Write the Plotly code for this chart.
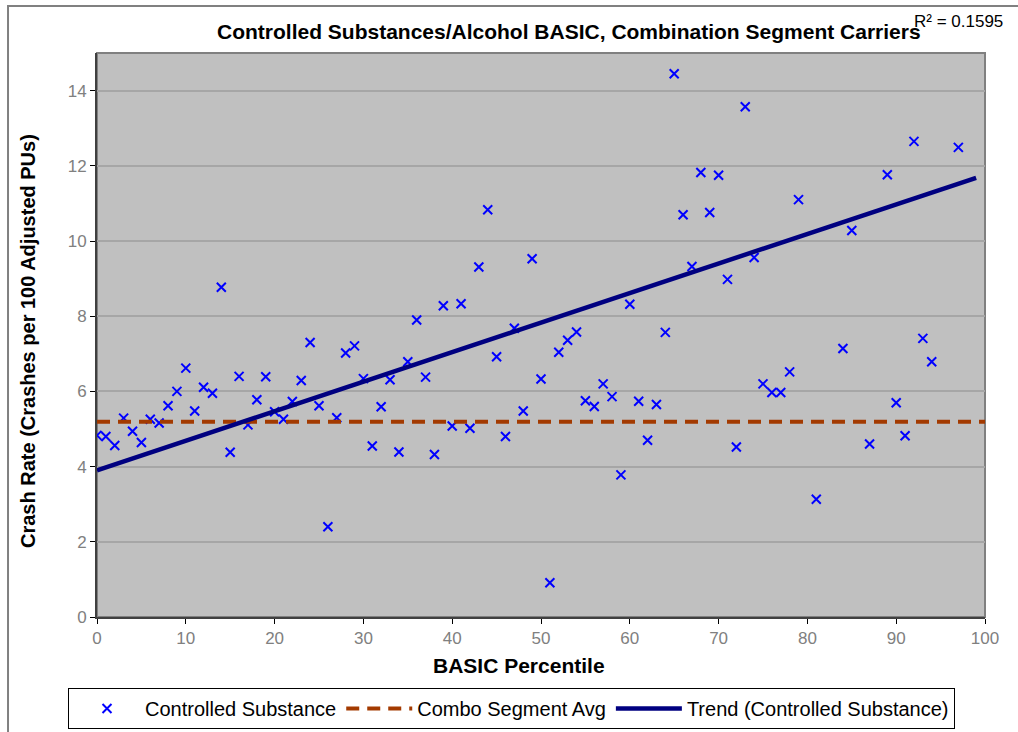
import plotly.graph_objects as go

# ---- data ----
percentile = [0, 1, 2, 3, 4, 5, 6, 7, 8, 9, 10, 11, 12, 13, 14, 15, 16, 17, 18, 19,
              20, 21, 22, 23, 24, 25, 26, 27, 28, 29, 30, 31, 32, 33, 34, 35, 36, 37, 38, 39,
              40, 41, 42, 43, 44, 45, 46, 47, 48, 49, 50, 51, 52, 53, 54, 55, 56, 57, 58, 59,
              60, 61, 62, 63, 64, 65, 66, 67, 68, 69, 70, 71, 72, 73, 74, 75, 76, 77, 78, 79,
              81, 84, 85, 87, 89, 90, 91, 92, 93, 94, 97]
crash_rate = [4.83, 4.80, 4.56, 5.29, 4.94, 4.64, 5.26, 5.16, 5.62, 6.00, 6.62, 5.48, 6.11, 5.95, 8.77, 4.38, 6.40, 5.11, 5.78, 6.39,
              5.46, 5.26, 5.73, 6.29, 7.30, 5.62, 2.40, 5.30, 7.02, 7.21, 6.34, 4.55, 5.59, 6.31, 4.39, 6.79, 7.90, 6.38, 4.32, 8.28,
              5.08, 8.33, 5.02, 9.31, 10.83, 6.92, 4.80, 7.68, 5.48, 9.53, 6.33, 0.91, 7.04, 7.36, 7.58, 5.75, 5.60, 6.20, 5.86, 3.78,
              8.32, 5.74, 4.70, 5.65, 7.57, 14.45, 10.70, 9.32, 11.82, 10.76, 11.75, 8.98, 4.52, 13.57, 9.56, 6.20, 5.97, 5.97, 6.52, 11.10,
              3.13, 7.14, 10.28, 4.60, 11.76, 5.70, 4.82, 12.65, 7.41, 6.79, 12.49]
avg_x = [0, 100]
avg_y = [5.19, 5.19]
trend_x = [0, 99]
trend_y = [3.90, 11.68]
r2_text = "R² = 0.1595"
x_ticks = [0, 10, 20, 30, 40, 50, 60, 70, 80, 90, 100]
y_ticks = [0, 2, 4, 6, 8, 10, 12, 14]

FONT = "Liberation Sans, Arial, sans-serif"

fig = go.Figure()
fig.add_trace(go.Scatter(
    x=percentile, y=crash_rate, mode="markers", name="Controlled Substance",
    marker=dict(symbol="x-thin", size=9, color="#0000ff",
                line=dict(width=2, color="#0000ff")),
))
fig.add_trace(go.Scatter(
    x=avg_x, y=avg_y, mode="lines", name="Combo Segment Avg",
    line=dict(color="#a33a00", width=4, dash="13px,8px"),
))
fig.add_trace(go.Scatter(
    x=trend_x, y=trend_y, mode="lines", name="Trend (Controlled Substance)",
    line=dict(color="#000080", width=4.5),
))

# outer chart border
fig.add_shape(type="rect", xref="paper", yref="paper",
              x0=-0.1002, x1=1.06, y0=-0.25, y1=1.0833,
              line=dict(color="#808080", width=2), fillcolor="rgba(0,0,0,0)",
              layer="below")

fig.add_annotation(text="<b>Controlled Substances/Alcohol BASIC, Combination Segment Carriers</b>",
                   xref="paper", yref="paper", x=(569 - 97) / 888, y=(617 - 31) / 564,
                   xanchor="center", yanchor="middle", showarrow=False,
                   font=dict(family=FONT, size=21, color="black"))
fig.add_annotation(text=r2_text, xref="paper", yref="paper",
                   x=(912 - 97) / 888, y=(617 - 22) / 564,
                   xanchor="left", yanchor="middle", showarrow=False,
                   font=dict(family=FONT, size=17, color="black"))
fig.add_annotation(text="<b>Crash Rate (Crashes per 100 Adjusted PUs)</b>",
                   xref="paper", yref="paper", x=(28 - 97) / 888, y=(617 - 341) / 564,
                   xanchor="center", yanchor="middle", textangle=-90, showarrow=False,
                   font=dict(family=FONT, size=20, color="black"))
fig.add_annotation(text="<b>BASIC Percentile</b>",
                   xref="paper", yref="paper", x=(519 - 97) / 888, y=(617 - 665) / 564,
                   xanchor="center", yanchor="middle", showarrow=False,
                   font=dict(family=FONT, size=21, color="black"))

fig.update_layout(
    width=1018, height=732,
    margin=dict(l=97, r=33, t=53, b=115),
    paper_bgcolor="white", plot_bgcolor="#c0c0c0",
    font=dict(family=FONT, size=16, color="black"),
    showlegend=True,
    legend=dict(orientation="h", xref="container", yref="container",
                x=68 / 1018, y=(732 - 688) / 732, xanchor="left", yanchor="top",
                bordercolor="black", borderwidth=1, bgcolor="white",
                font=dict(family=FONT, size=20, color="black"),
                itemwidth=66, tracegroupgap=0),
    xaxis=dict(range=[0, 100], tickmode="array", tickvals=x_ticks,
               ticks="outside", ticklen=5, tickcolor="black",
               showgrid=False, zeroline=False,
               showline=True, linecolor="#404040", linewidth=2, mirror=False,
               tickfont=dict(family=FONT, size=17, color="#808080")),
    yaxis=dict(range=[0, 15], tickmode="array", tickvals=y_ticks,
               ticks="outside", ticklen=5, tickcolor="black",
               showgrid=True, gridcolor="#a6a6a6", gridwidth=1.5, zeroline=False,
               showline=True, linecolor="#404040", linewidth=2, mirror=False,
               tickfont=dict(family=FONT, size=17, color="#808080")),
)
# plot-area gray frame
fig.add_shape(type="rect", xref="paper", yref="paper", x0=0, x1=1, y0=0, y1=1,
              line=dict(color="#808080", width=2), fillcolor="rgba(0,0,0,0)", layer="below")

fig.write_html("out.html", config={"displayModeBar": False},
               post_script="document.body.style.margin='0px';document.body.style.padding='0px';document.body.style.overflow='hidden';")
